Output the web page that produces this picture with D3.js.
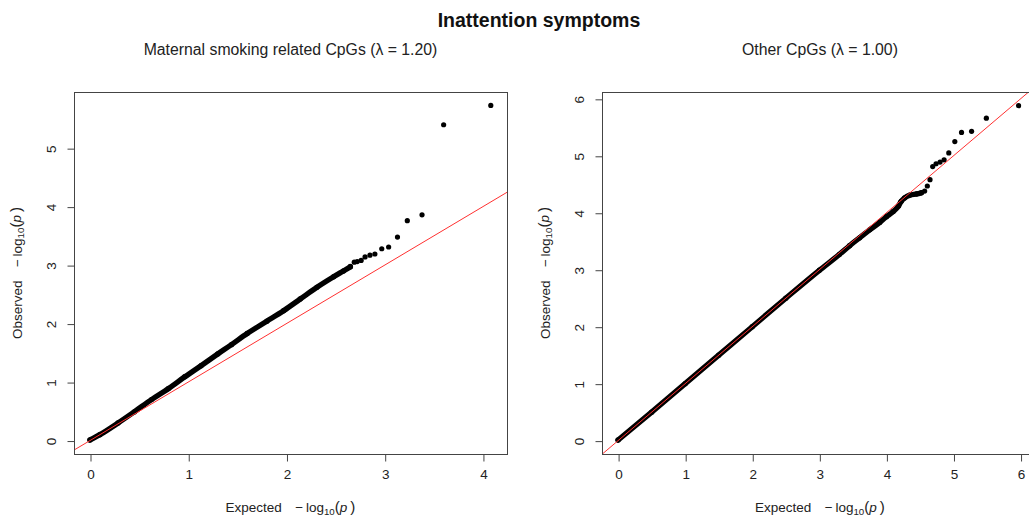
<!DOCTYPE html>
<html>
<head>
<meta charset="utf-8">
<script src="https://cdn.jsdelivr.net/npm/d3@7"></script>
<style>
  html, body { margin: 0; padding: 0; background: #fff; }
  svg { display: block; font-family: "Liberation Sans", Arial, Helvetica, sans-serif; }
</style>
</head>
<body>
<svg id="chart" width="1029" height="519"></svg>
<script>
// QQ plots of -log10(p) for two CpG sets.

const chartTitle = "Inattention symptoms";
const panelTitles = ["Maternal smoking related CpGs (\u03bb = 1.20)", "Other CpGs (\u03bb = 1.00)"];

// Maternal smoking related CpGs: continuous body of the QQ curve
const smokeBodyExp = [0, 0.10, 0.285, 0.45, 0.626, 0.80, 0.965, 1.13, 1.30, 1.44, 1.60, 1.80, 1.97, 2.14, 2.31, 2.48, 2.58, 2.65];
const smokeBodyObs = [0.01, 0.10, 0.30, 0.49, 0.70, 0.89, 1.09, 1.28, 1.48, 1.64, 1.83, 2.04, 2.22, 2.42, 2.62, 2.80, 2.90, 2.97];
// Maternal smoking related CpGs: separated top-ranked points
const smokeTailExp = [4.08, 3.60, 3.38, 3.23, 3.13, 3.04, 2.97, 2.90, 2.85, 2.80, 2.76, 2.72, 2.69, 2.65];
const smokeTailObs = [5.73, 5.40, 3.86, 3.76, 3.48, 3.31, 3.28, 3.19, 3.17, 3.14, 3.08, 3.06, 3.05, 2.98];

// Other CpGs: continuous body of the QQ curve
const otherBodyExp = [0, 0.5, 1.0, 1.5, 2.0, 2.5, 3.0, 3.30, 3.45, 3.60, 3.75, 3.90, 4.00, 4.10, 4.18, 4.22, 4.27, 4.35, 4.45, 4.52];
const otherBodyObs = [0.01, 0.50, 1.00, 1.50, 2.00, 2.50, 2.99, 3.27, 3.42, 3.56, 3.70, 3.83, 3.93, 4.02, 4.12, 4.20, 4.26, 4.31, 4.33, 4.35];
// Other CpGs: separated top-ranked points
const otherTailExp = [5.97, 5.49, 5.27, 5.12, 5.02, 4.93, 4.86, 4.80, 4.74, 4.69, 4.65, 4.61, 4.57];
const otherTailObs = [5.88, 5.66, 5.43, 5.41, 5.25, 5.05, 4.93, 4.89, 4.86, 4.81, 4.58, 4.47, 4.38];

const smokeXTicks = [0, 1, 2, 3, 4];
const smokeYTicks = [0, 1, 2, 3, 4, 5];
const otherXTicks = [0, 1, 2, 3, 4, 5, 6];
const otherYTicks = [0, 1, 2, 3, 4, 5, 6];

const panels = [
  {
    title: panelTitles[0],
    bodyExp: smokeBodyExp, bodyObs: smokeBodyObs,
    tailExp: smokeTailExp, tailObs: smokeTailObs,
    xTicks: smokeXTicks, yTicks: smokeYTicks,
    xDomain: [-0.163, 4.245], yDomain: [-0.23, 5.96],
    box: { left: 74, right: 507, top: 92, bottom: 454 }
  },
  {
    title: panelTitles[1],
    bodyExp: otherBodyExp, bodyObs: otherBodyObs,
    tailExp: otherTailExp, tailObs: otherTailObs,
    xTicks: otherXTicks, yTicks: otherYTicks,
    xDomain: [-0.24, 6.26], yDomain: [-0.235, 6.12],
    box: { left: 602, right: 1038, top: 92, bottom: 454 }
  }
];

const svg = d3.select("#chart");
const ink = "#222";
const boxColor = "#444";

svg.append("text")
  .attr("x", 539).attr("y", 27)
  .attr("text-anchor", "middle")
  .attr("font-size", "19.5px")
  .attr("font-weight", "bold")
  .attr("fill", "#111")
  .text(chartTitle);

// Writes "label  -log10(p)" as plotmath-like text
function mathLabel(sel, label) {
  sel.append("tspan").text(label + "\u2003\u2212\u2009log");
  sel.append("tspan").attr("font-size", "0.72em").attr("dy", "0.28em").text("10");
  sel.append("tspan").attr("dy", "-0.2em").attr("font-size", "1.12em").text("(");
  sel.append("tspan").attr("font-style", "italic").text("p");
  sel.append("tspan").attr("font-size", "1.12em").text("\u2009)");
}

panels.forEach((p, idx) => {
  const b = p.box;
  const x = d3.scaleLinear().domain(p.xDomain).range([b.left, b.right]);
  const y = d3.scaleLinear().domain(p.yDomain).range([b.bottom, b.top]);
  const g = svg.append("g");
  const cx = (b.left + b.right) / 2;
  const cy = (b.top + b.bottom) / 2;

  const clipId = "clip" + idx;
  svg.append("defs").append("clipPath").attr("id", clipId)
    .append("rect")
    .attr("x", b.left).attr("y", b.top)
    .attr("width", b.right - b.left).attr("height", b.bottom - b.top);

  // panel title
  g.append("text")
    .attr("x", cx).attr("y", 54.5)
    .attr("text-anchor", "middle")
    .attr("font-size", "15.8px")
    .attr("fill", ink)
    .text(p.title);

  const plot = g.append("g").attr("clip-path", `url(#${clipId})`);

  // dense body of points
  const body = p.bodyExp.map((e, i) => [e, p.bodyObs[i]]);
  plot.append("path")
    .datum(body)
    .attr("d", d3.line().curve(d3.curveMonotoneX).x(d => x(d[0])).y(d => y(d[1])))
    .attr("fill", "none")
    .attr("stroke", "#000")
    .attr("stroke-width", 5.4)
    .attr("stroke-linecap", "round")
    .attr("stroke-linejoin", "round");

  plot.selectAll("circle.body")
    .data(body)
    .join("circle")
    .attr("class", "body")
    .attr("cx", d => x(d[0])).attr("cy", d => y(d[1]))
    .attr("r", 2.7)
    .attr("fill", "#000");

  // separated top points
  const tail = p.tailExp.map((e, i) => [e, p.tailObs[i]]);
  plot.selectAll("circle.tail")
    .data(tail)
    .join("circle")
    .attr("class", "tail")
    .attr("cx", d => x(d[0])).attr("cy", d => y(d[1]))
    .attr("r", 2.6)
    .attr("fill", "#000");

  // identity line
  const lo = Math.min(p.xDomain[0], p.yDomain[0]);
  const hi = Math.max(p.xDomain[1], p.yDomain[1]);
  plot.append("line")
    .attr("x1", x(lo)).attr("y1", y(lo))
    .attr("x2", x(hi)).attr("y2", y(hi))
    .attr("stroke", "#ff3030")
    .attr("stroke-width", 1);

  // frame
  g.append("rect")
    .attr("x", b.left + 0.5).attr("y", b.top + 0.5)
    .attr("width", b.right - b.left).attr("height", b.bottom - b.top)
    .attr("fill", "none")
    .attr("stroke", boxColor)
    .attr("stroke-width", 1);

  // x axis
  const xAxis = g.append("g").attr("transform", `translate(0.5,${b.bottom + 0.5})`)
    .call(d3.axisBottom(x).tickValues(p.xTicks).tickFormat(d3.format("d"))
      .tickSize(7).tickSizeOuter(0).tickPadding(8));
  xAxis.select(".domain").remove();
  xAxis.selectAll("line").attr("stroke", boxColor);
  xAxis.selectAll("text").attr("font-size", "13.5px").attr("fill", ink)
    .attr("font-family", "Liberation Sans, Arial, sans-serif");

  // y axis with rotated labels
  const yAxis = g.append("g").attr("transform", `translate(${b.left + 0.5},0.5)`)
    .call(d3.axisLeft(y).tickValues(p.yTicks).tickFormat(d3.format("d"))
      .tickSize(7).tickSizeOuter(0));
  yAxis.select(".domain").remove();
  yAxis.selectAll("line").attr("stroke", boxColor);
  yAxis.selectAll("text")
    .attr("font-size", "13.5px").attr("fill", ink)
    .attr("font-family", "Liberation Sans, Arial, sans-serif")
    .attr("x", null).attr("dy", null)
    .attr("text-anchor", "middle")
    .attr("transform", "translate(-19,0) rotate(-90)");

  // axis titles
  g.append("text")
    .attr("x", cx).attr("y", 512)
    .attr("text-anchor", "middle")
    .attr("font-size", "13.5px")
    .attr("fill", ink)
    .call(mathLabel, "Expected");

  g.append("text")
    .attr("transform", `translate(${b.left - 52.3},${cy}) rotate(-90)`)
    .attr("text-anchor", "middle")
    .attr("font-size", "13.5px")
    .attr("fill", ink)
    .call(mathLabel, "Observed");
});
</script>
</body>
</html>
